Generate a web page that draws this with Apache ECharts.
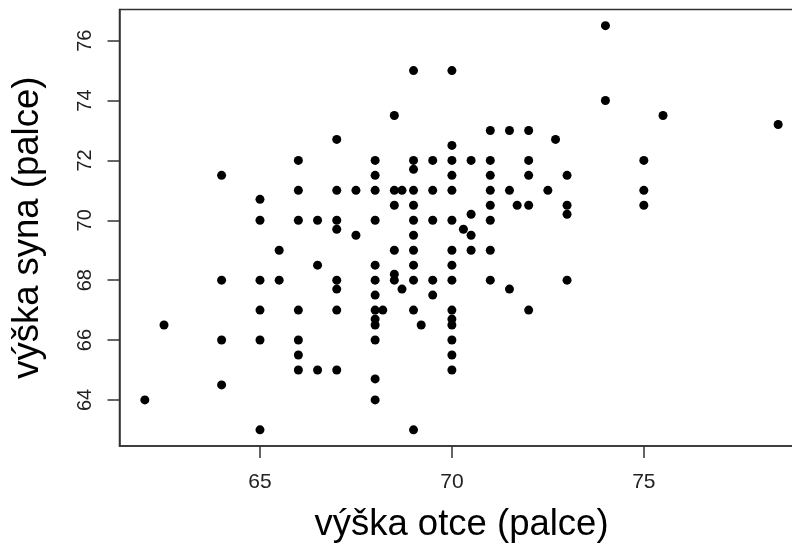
<!DOCTYPE html>
<html><head><meta charset="utf-8">
<script src="https://cdn.jsdelivr.net/npm/echarts@6/dist/echarts.min.js"></script>
<style>html,body{margin:0;padding:0;background:#fff}#c{width:792px;height:546px}</style>
</head><body><div id="c"></div>
<script>
const fatherHeight = [
  62, 62.5,
  64, 64, 64, 64,
  65, 65, 65, 65, 65, 65,
  65.5, 65.5,
  66, 66, 66, 66, 66, 66, 66,
  66.5, 66.5, 66.5,
  67, 67, 67, 67, 67, 67, 67, 67,
  67.5, 67.5,
  68, 68, 68, 68, 68, 68, 68, 68, 68, 68, 68, 68, 68,
  68.2,
  68.5, 68.5, 68.5, 68.5, 68.5, 68.5,
  68.7, 68.7,
  69, 69, 69, 69, 69, 69, 69, 69, 69, 69, 69, 69,
  69.2,
  69.5, 69.5, 69.5, 69.5, 69.5,
  70, 70, 70, 70, 70, 70, 70, 70, 70, 70, 70, 70, 70, 70, 70,
  70.3,
  70.5, 70.5, 70.5, 70.5,
  71, 71, 71, 71, 71, 71, 71, 71,
  71.5, 71.5, 71.5,
  71.7,
  72, 72, 72, 72, 72,
  72.5, 72.7,
  73, 73, 73, 73,
  74, 74,
  75, 75, 75,
  75.5, 78.5
];
const sonHeight = [
  64, 66.5,
  71.5, 68, 66, 64.5,
  70.7, 70, 68, 67, 66, 63,
  69, 68,
  72, 71, 70, 67, 66, 65.5, 65,
  70, 68.5, 65,
  72.7, 71, 70, 69.7, 68, 67.7, 67, 65,
  71, 69.5,
  72, 71.5, 71, 70, 68.5, 68, 67.5, 67, 66.7, 66.5, 66, 64.7, 64,
  67,
  73.5, 71, 70.5, 69, 68.2, 68,
  71, 67.7,
  75, 72, 71.7, 71, 70.5, 70, 69.5, 69, 68.5, 68, 67, 63,
  66.5,
  72, 71, 70, 68, 67.5,
  75, 72.5, 72, 71.5, 71, 70, 69, 68.5, 68, 67, 66.7, 66.5, 66, 65.5, 65,
  69.7,
  72, 70.2, 69.5, 69,
  73, 72, 71.5, 71, 70.5, 70, 69, 68,
  73, 71, 67.7,
  70.5,
  73, 72, 71.5, 70.5, 67,
  71, 72.7,
  71.5, 70.5, 70.2, 68,
  76.5, 74,
  72, 71, 70.5,
  73.5, 73.2
];
const xTicks = [65, 70, 75];
const yTicks = [64, 66, 68, 70, 72, 74, 76];
const xTitle = 'výška otce (palce)';
const yTitle = 'výška syna (palce)';

const points = fatherHeight.map((f, i) => [f, sonHeight[i]]);
const FONT = '"Liberation Sans", Arial, sans-serif';
const chart = echarts.init(document.getElementById('c'), null, {renderer: 'canvas'});
chart.setOption({
  animation: false,
  backgroundColor: '#ffffff',
  grid: {
    left: 119.5, top: 9.5, right: -11.5, bottom: 100,
    containLabel: false, outerBoundsMode: 'none',
    show: true, borderColor: '#333', borderWidth: 1.5, backgroundColor: 'transparent'
  },
  xAxis: {
    type: 'value', min: 61.34, max: 79.16,
    name: xTitle, nameLocation: 'middle', nameGap: 60,
    nameTextStyle: {fontFamily: FONT, fontSize: 36.5, color: '#000'},
    axisLine: {show: true, onZero: false, lineStyle: {color: '#333', width: 1.5}},
    axisTick: {show: true, length: 12, customValues: xTicks, lineStyle: {color: '#333', width: 1.5}},
    axisLabel: {customValues: xTicks, margin: 26, fontFamily: FONT, fontSize: 21, color: '#222'},
    splitLine: {show: false}
  },
  yAxis: {
    type: 'value', min: 62.46, max: 77.04,
    name: yTitle, nameLocation: 'middle', nameGap: 73, nameRotate: 90,
    nameTextStyle: {fontFamily: FONT, fontSize: 36.5, color: '#000'},
    axisLine: {show: true, onZero: false, lineStyle: {color: '#333', width: 1.5}},
    axisTick: {show: true, length: 12, customValues: yTicks, lineStyle: {color: '#333', width: 1.5}},
    axisLabel: {customValues: yTicks, rotate: 90, margin: 24, fontFamily: FONT, fontSize: 20, color: '#222'},
    splitLine: {show: false}
  },
  series: [{
    type: 'scatter',
    data: points,
    symbol: 'circle',
    symbolSize: 9,
    itemStyle: {color: '#000', opacity: 1},
    clip: false
  }]
});
</script>
</body></html>
